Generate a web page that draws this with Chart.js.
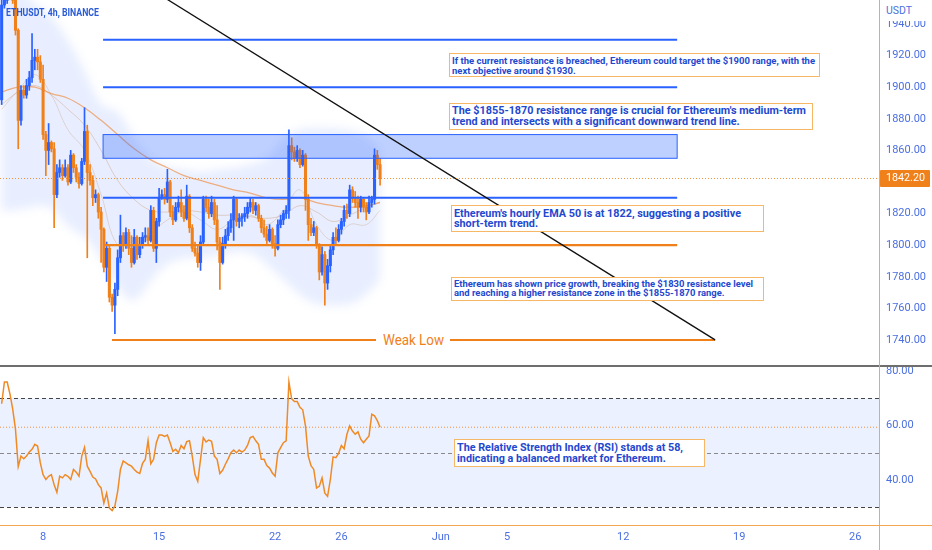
<!DOCTYPE html>
<html>
<head>
<meta charset="utf-8">
<script src="https://cdn.jsdelivr.net/npm/chart.js@4.4.1/dist/chart.umd.min.js"></script>
<style>
  html, body { margin: 0; padding: 0; background: #fff; }
  #wrap { position: relative; width: 932px; height: 550px; overflow: hidden; font-family: Roboto, "Noto Sans", sans-serif; }
  canvas { position: absolute; left: 0; }
  .note { position: absolute; box-sizing: border-box; border: 1px solid #f6b866; background: #fff; color: #2348cf; font-weight: 700; z-index: 5; }
  .ln { position: absolute; white-space: nowrap; transform-origin: 0 50%; }
  .lbl { position: absolute; white-space: nowrap; z-index: 6; transform-origin: 0 50%; }
  .rule { position: absolute; z-index: 4; }
</style>
</head>
<body>
<div id="wrap">
  <canvas id="price" width="932" height="366" style="top:0"></canvas>
  <canvas id="rsi" width="932" height="183" style="top:367px"></canvas>
</div>
<script>
// ---- data ----
// 4h candles, day numbers of May (32 = Jun 1)
const firstCandleDay = 5.5;
const firstOpen = 1892;
const closes = [1952,1955,1965,1971,1955,1936,1879,1898,1895,1901,
  1906,1917,1919,1916,1905,1870,1860,1865,1861,1832,
  1846,1849,1844,1849,1840,1857,1849,1843,1839,1853,
  1872,1846,1841,1830,1832,1821,1810,1786,1798,1767,
  1762,1772,1792,1806,1800,1808,1798,1789,1805,1794,
  1800,1805,1806,1803,1822,1798,1815,1830,1832,1829,
  1840,1821,1816,1824,1827,1821,1817,1831,1811,1798,
  1795,1789,1802,1829,1824,1820,1827,1816,1802,1789,
  1801,1806,1811,1816,1829,1815,1817,1818,1820,1824,
  1827,1822,1825,1817,1811,1807,1803,1810,1801,1798,
  1813,1816,1820,1822,1863,1859,1855,1860,1851,1857,
  1829,1813,1808,1811,1800,1783,1794,1776,1787,1797,
  1805,1803,1810,1815,1822,1820,1835,1830,1827,1824,
  1829,1824,1821,1827,1829,1857,1851,1842.2];
const highs = [1968,1962,1970,1976,1973,1957,1937,1901,1901,1905,
  1910,1934,1924,1924,1920,1914,1872,1877,1866,1865,
  1851,1854,1851,1854,1851,1860,1858,1851,1846,1855,
  1887,1876,1851,1844,1835,1833,1824,1811,1802,1800,
  1769,1776,1797,1819,1808,1811,1810,1806,1810,1806,
  1805,1808,1811,1811,1825,1824,1817,1836,1835,1836,
  1848,1841,1825,1827,1831,1835,1825,1838,1832,1813,
  1802,1800,1806,1831,1831,1829,1831,1829,1825,1805,
  1805,1810,1815,1820,1831,1830,1820,1820,1824,1827,
  1830,1829,1827,1826,1819,1816,1812,1813,1811,1806,
  1816,1819,1822,1825,1873,1868,1862,1863,1861,1860,
  1858,1832,1817,1815,1812,1801,1799,1796,1791,1800,
  1808,1811,1813,1817,1825,1826,1838,1837,1834,1831,
  1831,1830,1827,1831,1831,1861,1860,1855];
const lows = [1889,1950,1953,1963,1953,1933,1861,1876,1893,1893,
  1898,1903,1911,1911,1903,1867,1844,1851,1859,1811,
  1830,1843,1841,1843,1838,1839,1846,1840,1836,1838,
  1851,1792,1838,1825,1827,1817,1789,1783,1777,1764,
  1758,1744,1768,1789,1796,1798,1794,1786,1788,1791,
  1792,1798,1802,1801,1802,1796,1789,1812,1829,1826,
  1827,1818,1813,1815,1821,1818,1815,1816,1808,1796,
  1793,1786,1784,1800,1821,1817,1818,1813,1797,1772,
  1788,1798,1803,1808,1803,1812,1811,1812,1815,1817,
  1821,1820,1819,1815,1808,1805,1801,1802,1798,1793,
  1797,1811,1813,1817,1817,1854,1853,1853,1849,1850,
  1822,1803,1806,1806,1798,1778,1781,1762,1772,1783,
  1794,1801,1802,1807,1812,1817,1818,1827,1824,1817,
  1821,1821,1816,1820,1824,1826,1848,1838];
const rsiValues = [68,76,76,71.6,66,58.7,45,48.8,47.8,48.8,
  50.3,51.3,53.1,52.5,46.3,42,40.2,41.4,42,38.3,
  35.5,41.4,40.8,42,41.4,40.2,43.9,42.9,41.4,48.8,
  52,45.1,43.2,41.1,40.4,38.3,37.1,31.5,35.2,29.7,
  28.8,30.5,35.8,43.9,47,46.3,45.6,45.1,43.9,42.9,
  42.4,46.1,47.6,54.5,46,47.6,53.7,56.5,56.5,56,
  56.5,53.7,50.5,51.3,50,52.7,51.5,54.1,54.4,48.8,
  42,39.5,47.6,55.6,54,54.7,54.2,48.8,47.6,42.4,
  43.6,45.8,47.8,50,51,50,51,50.3,51,52.7,
  55.6,56,54.4,53.1,47.6,47.6,45.3,44.4,42.6,41.4,
  50,51.9,53.7,54.4,76,69.8,68.8,68.8,66.7,65.8,
  59.9,48.8,45.3,43.9,37.1,37.7,40.8,35.2,34,40.2,
  48.5,48.2,49.8,52.7,51.5,56.8,59.9,58,56.8,57.7,
  55,53.7,55,56.2,64.2,63.6,61.8,59.4];

// daily samples of the moving averages and the shaded band
const maDays = [5.5,6.5,7.5,8.5,9.5,10.5,11.5,12.5,13.5,14.5,15.5,16.5,17.5,18.5,19.5,20.5,21.5,22.5,23.5,24.5,25.5,26.5,27.5,28.33];
const emaSlow = [1897,1900,1900,1896,1893,1887,1879,1870,1861,1854,1849,1844,1841,1838,1835,1833,1830,1829,1830,1827,1825,1824,1825,1827];
const emaMid = [1889,1897,1901,1895,1886,1876,1860,1841,1829,1822,1821,1822,1821,1819,1819,1818,1817,1819,1825,1821,1815,1819,1824,1827];
const emaFast = [1886,1898,1908,1895,1873,1860,1832,1800,1803,1808,1816,1821,1816,1810,1816,1819,1813,1822,1835,1813,1803,1813,1813,1822];
const cloudUpper = [1962,1965,1952,1946,1930,1911,1886,1887,1867,1854,1849,1848,1846,1848,1849,1851,1854,1868,1874,1874,1874,1873,1870,1860];
const cloudLower = [1822,1822,1825,1825,1811,1806,1792,1772,1762,1778,1789,1792,1792,1793,1796,1796,1788,1778,1768,1762,1762,1762,1768,1778];

// drawings
const targetLevels = [1930, 1900];
const breakoutLevel = 1830;
const supportLevel = 1800;
const resistanceZone = [1855, 1870];
const levelStartDay = 11.62;
const levelEndDay = 46.26;
const weakLow = 1740;
const weakLowStartDay = 12.16;
const weakLowEndDay = 48.55;
const trendLine = [[15.5, 1955.5], [48.55, 1740]];

// axes
const priceTicks = [1740, 1760, 1780, 1800, 1820, 1860, 1880, 1900, 1920, 1940];
const rsiTicks = [40, 60, 80];
const rsiBands = [30, 50, 70];
const tickDays = [8, 15, 22, 26, 32, 36, 43, 50, 57];
const tickLabels = ["8", "15", "22", "26", "Jun", "5", "12", "19", "26"];

const BLUE = "#2962ff";
const ORANGE = "#f0801a";
const AXIS_TEXT = "#4b6fe0";

// ---- build candles ----
const candles = closes.map((c, i) => ({
  t: firstCandleDay + i / 6,
  o: i === 0 ? firstOpen : closes[i - 1],
  c: c,
  h: highs[i],
  l: lows[i]
}));
const candleColor = ctx => {
  const k = candles[ctx.dataIndex];
  return k && k.c >= k.o ? BLUE : ORANGE;
};

function smoothTo(ctx, pts, first) {
  if (first) ctx.moveTo(pts[0][0], pts[0][1]); else ctx.lineTo(pts[0][0], pts[0][1]);
  for (let i = 1; i < pts.length - 1; i++) {
    const mx = (pts[i][0] + pts[i + 1][0]) / 2, my = (pts[i][1] + pts[i + 1][1]) / 2;
    ctx.quadraticCurveTo(pts[i][0], pts[i][1], mx, my);
  }
  const last = pts[pts.length - 1];
  ctx.lineTo(last[0], last[1]);
}

const cloudPlugin = {
  id: "cloud",
  beforeDatasetsDraw(chart) {
    const { ctx, chartArea: a, scales: { x, y } } = chart;
    const up = maDays.map((d, i) => [x.getPixelForValue(d), y.getPixelForValue(cloudUpper[i])]);
    const lo = maDays.map((d, i) => [x.getPixelForValue(d), y.getPixelForValue(cloudLower[i])]).reverse();
    ctx.save();
    ctx.beginPath();
    ctx.rect(a.left, a.top, a.width, a.height);
    ctx.clip();
    ctx.filter = "blur(5px)";
    ctx.fillStyle = "rgba(41,98,255,0.11)";
    ctx.beginPath();
    smoothTo(ctx, up, true);
    smoothTo(ctx, lo, false);
    ctx.closePath();
    ctx.fill();
    ctx.restore();
  }
};

const drawingsPlugin = {
  id: "drawings",
  afterDatasetsDraw(chart) {
    const { ctx, chartArea: a, scales: { x, y } } = chart;
    const x0 = x.getPixelForValue(levelStartDay), x1 = x.getPixelForValue(levelEndDay);
    const hline = (p, color, w, from, to) => {
      const py = y.getPixelForValue(p);
      ctx.strokeStyle = color;
      ctx.lineWidth = w;
      ctx.beginPath();
      ctx.moveTo(from, py);
      ctx.lineTo(to, py);
      ctx.stroke();
    };
    ctx.save();
    ctx.beginPath();
    ctx.rect(a.left, a.top, a.width, a.height);
    ctx.clip();

    const zt = y.getPixelForValue(resistanceZone[1]), zb = y.getPixelForValue(resistanceZone[0]);
    ctx.fillStyle = "rgba(41,98,255,0.3)";
    ctx.fillRect(x0, zt, x1 - x0, zb - zt);
    ctx.strokeStyle = BLUE;
    ctx.lineWidth = 1;
    ctx.strokeRect(x0, zt, x1 - x0, zb - zt);

    targetLevels.forEach(p => hline(p, BLUE, 2, x0, x1));
    hline(breakoutLevel, BLUE, 2, x0, x1);
    hline(supportLevel, ORANGE, 2.4, x0, x1);
    hline(weakLow, ORANGE, 2, x.getPixelForValue(weakLowStartDay), x.getPixelForValue(weakLowEndDay));

    ctx.strokeStyle = "#111";
    ctx.lineWidth = 1.4;
    ctx.beginPath();
    ctx.moveTo(x.getPixelForValue(trendLine[0][0]), y.getPixelForValue(trendLine[0][1]));
    ctx.lineTo(x.getPixelForValue(trendLine[1][0]), y.getPixelForValue(trendLine[1][1]));
    ctx.stroke();

    ctx.setLineDash([1, 2]);
    hline(closes[closes.length - 1], "rgba(240,128,26,0.85)", 1, a.left, a.right);
    ctx.restore();
  }
};

const rsiPlugin = {
  id: "rsiGuides",
  beforeDatasetsDraw(chart) {
    const { ctx, chartArea: a, scales: { y } } = chart;
    const yHi = y.getPixelForValue(rsiBands[2]), yLo = y.getPixelForValue(rsiBands[0]);
    ctx.save();
    ctx.fillStyle = "rgba(41,98,255,0.09)";
    ctx.fillRect(a.left, yHi, a.width, yLo - yHi);
    rsiBands.forEach((v, i) => {
      const py = Math.round(y.getPixelForValue(v)) + 0.5;
      ctx.strokeStyle = i === 1 ? "#8a8a8a" : "#444";
      ctx.lineWidth = 1;
      ctx.setLineDash([4, 3]);
      ctx.beginPath();
      ctx.moveTo(a.left, py);
      ctx.lineTo(a.right, py);
      ctx.stroke();
    });
    const pl = y.getPixelForValue(rsiValues[rsiValues.length - 1]);
    ctx.strokeStyle = "rgba(240,128,26,0.85)";
    ctx.setLineDash([1, 2]);
    ctx.beginPath();
    ctx.moveTo(a.left, pl);
    ctx.lineTo(a.right, pl);
    ctx.stroke();
    ctx.restore();
  }
};

const fixRight = s => { s.width = 52; s.paddingTop = 0; s.paddingBottom = 0; };
const tickFont = { family: "Roboto", size: 11 };

const maLine = (label, values, color, width, order) => ({
  type: "line",
  label: label,
  data: maDays.map((d, i) => ({ x: d, y: values[i] })),
  borderColor: color,
  borderWidth: width,
  pointRadius: 0,
  tension: 0.4,
  fill: false,
  order: order
});

const priceChart = new Chart(document.getElementById("price"), {
  type: "bar",
  data: {
    datasets: [
      {
        label: "bodies",
        data: candles.map(k => ({ x: k.t, y: [k.o, k.c] })),
        backgroundColor: candleColor,
        barThickness: 2.4,
        grouped: false,
        borderWidth: 0,
        order: 1
      },
      {
        label: "wicks",
        data: candles.map(k => ({ x: k.t, y: [k.l, k.h] })),
        backgroundColor: candleColor,
        barThickness: 1,
        grouped: false,
        borderWidth: 0,
        order: 2
      },
      maLine("EMA 50", emaSlow, "rgba(238,140,60,0.65)", 1.3, 3),
      maLine("EMA 20", emaMid, "rgba(205,150,110,0.5)", 0.8, 4),
      maLine("EMA 10", emaFast, "rgba(200,160,130,0.45)", 0.8, 5)
    ]
  },
  options: {
    responsive: false,
    animation: false,
    events: [],
    layout: { padding: 0 },
    plugins: { legend: { display: false }, tooltip: { enabled: false } },
    scales: {
      x: { type: "linear", min: 5.4, max: 58.5, display: false, offset: false },
      y: {
        position: "right",
        min: 1723.5,
        max: 1955.2,
        bounds: "data",
        grid: { display: false, drawTicks: false },
        border: { display: false },
        ticks: { color: AXIS_TEXT, font: tickFont, padding: 6, callback: v => Number(v).toFixed(2) },
        afterBuildTicks: s => { s.ticks = priceTicks.map(v => ({ value: v })); },
        afterFit: fixRight
      }
    }
  },
  plugins: [cloudPlugin, drawingsPlugin]
});

const rsiChart = new Chart(document.getElementById("rsi"), {
  type: "line",
  data: {
    datasets: [{
      label: "RSI",
      data: candles.map((k, i) => ({ x: k.t, y: rsiValues[i] })),
      borderColor: "#f08a24",
      borderWidth: 1.5,
      pointRadius: 0,
      tension: 0,
      fill: false
    }]
  },
  options: {
    responsive: false,
    animation: false,
    events: [],
    layout: { padding: 0 },
    plugins: { legend: { display: false }, tooltip: { enabled: false } },
    scales: {
      x: {
        type: "linear", min: 5.4, max: 58.5, offset: false, bounds: "data",
        grid: { display: false, drawTicks: false },
        border: { display: false },
        ticks: {
          color: AXIS_TEXT, font: tickFont, padding: 6, autoSkip: false, maxRotation: 0, minRotation: 0,
          callback: v => tickLabels[tickDays.indexOf(v)]
        },
        afterBuildTicks: s => { s.ticks = tickDays.map(v => ({ value: v })); },
        afterFit: s => { s.height = 25; s.paddingLeft = 0; s.paddingRight = 0; }
      },
      y: {
        position: "right",
        min: 23.5,
        max: 81.5,
        bounds: "data",
        grid: { display: false, drawTicks: false },
        border: { display: false },
        ticks: { color: AXIS_TEXT, font: tickFont, padding: 6, callback: v => Number(v).toFixed(2) },
        afterBuildTicks: s => { s.ticks = rsiTicks.map(v => ({ value: v })); },
        afterFit: fixRight
      }
    }
  },
  plugins: [rsiPlugin]
});

// ---- overlays: frame lines, labels, notes ----
const wrap = document.getElementById("wrap");
function addDiv(cls, css, text) {
  const d = document.createElement("div");
  d.className = cls;
  Object.assign(d.style, css);
  if (text !== undefined) d.textContent = text;
  wrap.appendChild(d);
  return d;
}
const fits = [];
function fit(el, target, group) { fits.push({ el, target, group }); }

addDiv("rule", { left: "0px", top: "365px", width: "932px", height: "2px", background: "#6e6e6e" });
addDiv("rule", { left: "0px", top: "525px", width: "932px", height: "1px", background: "#f4a650" });
addDiv("rule", { left: "879px", top: "0px", width: "1px", height: "550px", background: "#f4a650" });

const usdt = addDiv("lbl", { left: "881px", top: "0px", width: "51px", height: "21px", background: "#fff" });
const usdtText = addDiv("lbl", { left: "886px", top: "4px", fontSize: "11px", lineHeight: "14px", color: AXIS_TEXT }, "USDT");
fit(usdtText, 26);

const title = addDiv("lbl", { left: "6px", top: "6px", fontSize: "10px", lineHeight: "13px", fontWeight: "700", color: "#2a5bd7" }, "ETHUSDT, 4h, BINANCE");
fit(title, 93);

const lastY = priceChart.scales.y.getPixelForValue(closes[closes.length - 1]);
const tag = addDiv("lbl", { left: "880px", top: (lastY - 8.5) + "px", width: "50px", height: "17px", background: ORANGE, borderRadius: "1px" });
const tagText = addDiv("lbl", { left: "886px", top: (lastY - 7) + "px", fontSize: "11px", lineHeight: "14px", color: "#fff" }, closes[closes.length - 1].toFixed(2));
fit(tagText, 39);

const wlY = priceChart.scales.y.getPixelForValue(weakLow);
const wl = addDiv("lbl", { left: "376px", top: (wlY - 9) + "px", width: "74px", height: "18px", background: "#fff" });
const wlText = addDiv("lbl", { left: "383px", top: (wlY - 9) + "px", fontSize: "15px", lineHeight: "18px", color: ORANGE }, "Weak Low");
fit(wlText, 61);

const notes = [
  { x: 449, y: 53, w: 371, h: 24, fs: 9, lh: 10, pt: 1.7, pl: 1.5, tw: 363,
    lines: ["If the current resistance is breached, Ethereum could target the $1900 range, with the", "next objective around $1930."] },
  { x: 449, y: 103, w: 364, h: 27, fs: 11, lh: 10.4, pt: 2.2, pl: 2, tw: 354,
    lines: ["The $1855-1870 resistance range is crucial for Ethereum's medium-term", "trend and intersects with a significant downward trend line."] },
  { x: 451, y: 205, w: 313, h: 27, fs: 11, lh: 10, pt: 3.1, pl: 2, tw: 287,
    lines: ["Ethereum's hourly EMA 50 is at 1822, suggesting a positive", "short-term trend."] },
  { x: 451, y: 277, w: 313, h: 24, fs: 9, lh: 9.4, pt: 2, pl: 2, tw: 299,
    lines: ["Ethereum has shown price growth, breaking the $1830 resistance level", "and reaching a higher resistance zone in the $1855-1870 range."] },
  { x: 454, y: 439, w: 251, h: 28, fs: 11, lh: 11, pt: 2.3, pl: 2, tw: 226,
    lines: ["The Relative Strength Index (RSI) stands at 58,", "indicating a balanced market for Ethereum."] }
];
notes.forEach(n => {
  const box = addDiv("note", { left: n.x + "px", top: n.y + "px", width: n.w + "px", height: n.h + "px" });
  const els = n.lines.map((t, k) => {
    const d = document.createElement("div");
    d.className = "ln";
    d.textContent = t;
    Object.assign(d.style, { left: n.pl + "px", top: (n.pt + k * n.lh) + "px", fontSize: n.fs + "px", lineHeight: n.lh + "px" });
    box.appendChild(d);
    return d;
  });
  fit(els[0], n.tw, els);
});

function applyFits() {
  fits.forEach(f => {
    f.el.style.transform = "none";
    const w = f.el.getBoundingClientRect().width;
    if (!w) return;
    const r = f.target / w;
    (f.group || [f.el]).forEach(e => { e.style.transform = "scaleX(" + r + ")"; });
  });
}
applyFits();
if (document.fonts && document.fonts.ready) document.fonts.ready.then(applyFits);
</script>
</body>
</html>
